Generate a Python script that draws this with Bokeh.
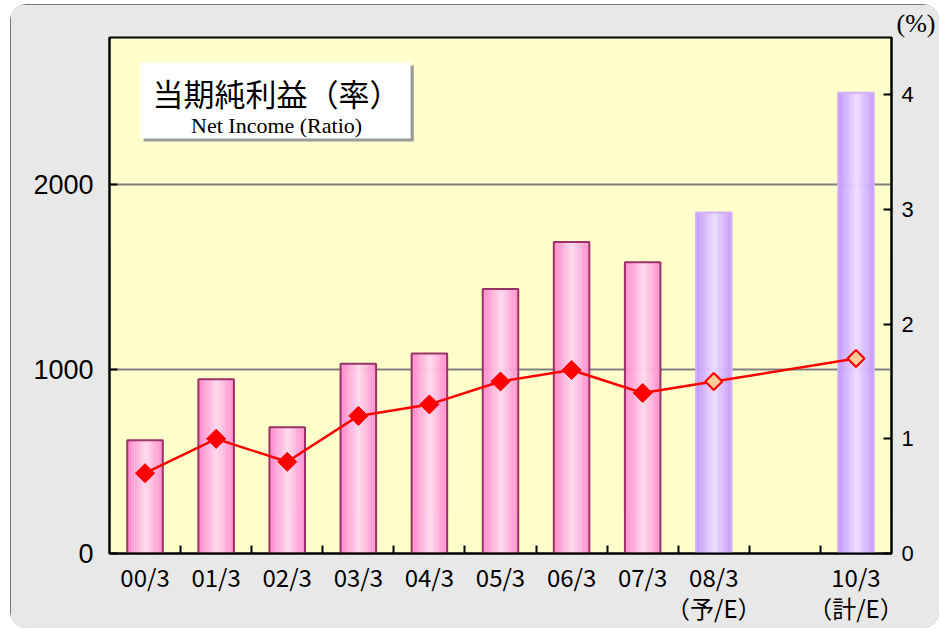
import math
from bokeh.plotting import figure
from bokeh.models import Range1d, LinearAxis, FixedTicker, ColumnDataSource, Label, BoxAnnotation
from bokeh.embed import file_html
from bokeh.resources import INLINE

# ---- data ----
periods = ["00/3", "01/3", "02/3", "03/3", "04/3", "05/3", "06/3", "07/3",
           "08/3\n（予/E）", "10/3\n（計/E）"]
slots = [0, 1, 2, 3, 4, 5, 6, 7, 8, 10]          # 09/3 slot is empty
net_income = [615, 945, 685, 1030, 1085, 1435, 1690, 1580, 1850, 2500]
ratio = [0.7, 1.0, 0.8, 1.2, 1.3, 1.5, 1.6, 1.4, 1.5, 1.7]
is_estimate = [False] * 8 + [True] * 2
left_ticks = [0, 1000, 2000]
right_ticks = [0, 1, 2, 3, 4]
n_slots = 11

centers = [2 * s + 1 for s in slots]
boundaries = list(range(2, 2 * n_slots, 2))

p = figure(frame_width=782, frame_height=516, output_backend="svg", toolbar_location=None,
           x_range=Range1d(0, 2 * n_slots), y_range=Range1d(0, 2800),
           min_border_left=99, min_border_right=48, min_border_top=33, min_border_bottom=75)
p.extra_y_ranges = {"pct": Range1d(0, 4.5)}

p.background_fill_color = "#ffffcc"
p.border_fill_color = "#e8e8e8"
p.outline_line_color = "black"
p.outline_line_width = 2
p.styles = {"margin-left": "10px", "margin-top": "4px",
            "border-radius": "16px", "overflow": "hidden",
            "outline": "1px solid #555555", "outline-offset": "-1px"}

# "(%)" unit label at top right
p.title.text = "(%)"
p.title.align = "right"
p.title.offset = -44
p.title.standoff = 0
p.title.text_font = "Liberation Serif"
p.title.text_font_size = "26px"
p.title.text_font_style = "normal"
p.title.text_color = "black"

p.xgrid.visible = False
p.ygrid.ticker = FixedTicker(ticks=left_ticks[1:])
p.ygrid.grid_line_color = "#808080"
p.ygrid.grid_line_width = 2

# left axis
ya = p.yaxis[0]
ya.ticker = FixedTicker(ticks=left_ticks)
ya.major_label_text_font = "Liberation Sans"
ya.major_label_text_font_size = "27px"
ya.major_label_text_color = "black"
ya.major_tick_in = 8
ya.major_tick_out = 0
ya.major_tick_line_width = 2
ya.minor_tick_line_color = None
ya.axis_line_width = 2
ya.major_label_standoff = 16

# right axis
ra = LinearAxis(y_range_name="pct", ticker=FixedTicker(ticks=right_ticks))
ra.major_label_text_font = "Liberation Sans"
ra.major_label_text_font_size = "22px"
ra.major_label_text_color = "black"
ra.major_tick_in = 8
ra.major_tick_out = 0
ra.major_tick_line_width = 2
ra.minor_tick_line_color = None
ra.axis_line_width = 2
ra.major_label_standoff = 10
p.add_layout(ra, "right")

# bottom axis
xa = p.xaxis[0]
xa.ticker = FixedTicker(ticks=centers, minor_ticks=boundaries)
xa.major_label_overrides = {c: lab for c, lab in zip(centers, periods)}
xa.major_label_text_font = "Noto Sans CJK JP"
xa.major_label_text_font_size = "24px"
xa.major_label_text_color = "black"
xa.major_label_text_line_height = 0.9
xa.major_tick_line_color = None
xa.minor_tick_in = 8
xa.minor_tick_out = 0
xa.minor_tick_line_width = 2
xa.minor_tick_line_color = "black"
xa.axis_line_width = 2
xa.major_label_standoff = -1

# ---- bars with horizontal gradient (strips) ----
def mix(c0, c1, f):
    return "#%02x%02x%02x" % tuple(int(round(a + (b - a) * f)) for a, b in zip(c0, c1))

pink_edge, pink_mid = (255, 136, 204), (255, 218, 238)
purp_edge, purp_mid = (196, 150, 255), (236, 222, 255)
N = 20
bar_w = 1.0
for k in range(N):
    t = (k + 0.5) / N
    f = max(0.0, 1.0 - abs(t - 0.52) / 0.5)
    cols = [mix(purp_edge, purp_mid, f) if e else mix(pink_edge, pink_mid, f) for e in is_estimate]
    src = ColumnDataSource(dict(x=[c - bar_w / 2 + t * bar_w for c in centers], top=net_income, color=cols))
    p.vbar(x="x", top="top", bottom=0, width=bar_w / N * 1.15, fill_color="color",
           line_color=None, source=src)

outline_cols = ["#d4b0ff" if e else "#993366" for e in is_estimate]
p.vbar(x=centers, top=net_income, bottom=0, width=bar_w, fill_color=None,
       line_color=outline_cols, line_width=2)

# ---- ratio line ----
p.line(centers, ratio, y_range_name="pct", line_color="#ff0000", line_width=2.5)
act_x = [c for c, e in zip(centers, is_estimate) if not e]
act_y = [r for r, e in zip(ratio, is_estimate) if not e]
est_x = [c for c, e in zip(centers, is_estimate) if e]
est_y = [r for r, e in zip(ratio, is_estimate) if e]
p.scatter(act_x, act_y, y_range_name="pct", marker="square", angle=math.pi / 4, size=13.5,
          fill_color="#ff0000", line_color="#ff0000", line_width=1)
p.scatter(est_x, est_y, y_range_name="pct", marker="square", angle=math.pi / 4, size=12,
          fill_color="#ffcc99", line_color="#ff0000", line_width=2.2)

# ---- title box ----
p.add_layout(BoxAnnotation(left=0.96, right=8.56, top=2648, bottom=2236,
                           fill_color="#9a9a9a", fill_alpha=1, line_color=None))
p.add_layout(BoxAnnotation(left=0.87, right=8.47, top=2664, bottom=2252,
                           fill_color="white", fill_alpha=1, line_color=None))
p.add_layout(Label(x=4.70, y=2500, text="当期純利益（率）", text_align="center",
                   text_baseline="middle", text_font="Noto Sans CJK JP",
                   text_font_size="31px", text_color="black"))
p.add_layout(Label(x=4.70, y=2325, text="Net Income (Ratio)", text_align="center",
                   text_baseline="middle", text_font="Liberation Serif",
                   text_font_size="22px", text_color="black"))

open("out.html", "w").write(file_html(p, INLINE))
